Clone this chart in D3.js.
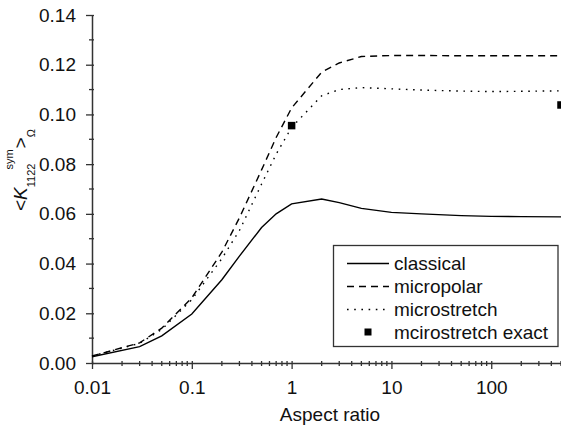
<!DOCTYPE html>
<html>
<head>
<meta charset="utf-8">
<script src="https://cdn.jsdelivr.net/npm/d3@7/dist/d3.min.js"></script>
<style>
  html, body { margin: 0; padding: 0; background: #fff; }
  svg text { font-family: "Liberation Sans", Arial, Helvetica, sans-serif; fill: #111; }
</style>
</head>
<body>
<svg id="chart" width="561" height="430"></svg>
<script>
// Aspect ratios at which the averaged stiffness component was evaluated
const aspect = [0.01, 0.03, 0.05, 0.1, 0.2, 0.3, 0.5, 0.7, 1, 2, 3, 5, 10, 20, 50, 100, 200, 500];
const classical    = [0.0025, 0.0066, 0.0109, 0.0197, 0.0335, 0.0430, 0.0545, 0.0600, 0.0640, 0.0660, 0.0645, 0.0622, 0.0606, 0.0600, 0.0593, 0.0590, 0.0589, 0.0588];
const micropolar   = [0.0028, 0.0081, 0.0140, 0.0262, 0.0446, 0.0584, 0.0777, 0.0907, 0.1026, 0.1170, 0.1207, 0.1233, 0.1237, 0.1237, 0.1236, 0.1236, 0.1236, 0.1236];
const microstretch = [0.0028, 0.0079, 0.0135, 0.0255, 0.0420, 0.0533, 0.0720, 0.0840, 0.0948, 0.1075, 0.1100, 0.1108, 0.1103, 0.1098, 0.1094, 0.1092, 0.1093, 0.1095];
// Exact microstretch solutions
const exactAspect = [1, 500];
const exactValue  = [0.0955, 0.1038];

const yTicks = [0.00, 0.02, 0.04, 0.06, 0.08, 0.10, 0.12, 0.14];
const yMinor = [0.01, 0.03, 0.05, 0.07, 0.09, 0.11, 0.13];
const xTicks = [0.01, 0.1, 1, 10, 100];
const xTickLabels = ["0.01", "0.1", "1", "10", "100"];

const svg = d3.select("#chart");
const x = d3.scaleLog().domain([0.01, 500]).range([92, 561]);
const y = d3.scaleLinear().domain([0, 0.14]).range([363, 15]);
const axisColor = "#333";
const fontSize = 19;

// minor log ticks along the x axis
const xMinor = [];
for (let e = -2; e <= 2; e++) {
  for (let m = 2; m <= 9; m++) {
    const v = m * Math.pow(10, e);
    if (v <= 500) xMinor.push(v);
  }
}

// --- bottom axis ---
const gx = svg.append("g").attr("transform", "translate(0,363)");
gx.call(d3.axisBottom(x).tickValues(xTicks).tickFormat((d, i) => xTickLabels[i]).tickSizeOuter(0).tickSizeInner(6).tickPadding(12));
gx.select(".domain").attr("stroke", axisColor).attr("stroke-width", 1.5);
gx.selectAll(".tick line").attr("y1", -2).attr("stroke", axisColor).attr("stroke-width", 1.3);
gx.selectAll(".tick text").attr("font-size", fontSize).style("font-family", "'Liberation Sans', Arial, sans-serif").attr("fill", "#111");
gx.selectAll(".minor").data(xMinor).enter().append("line")
  .attr("x1", d => x(d)).attr("x2", d => x(d)).attr("y1", -2).attr("y2", 3)
  .attr("stroke", axisColor).attr("stroke-width", 1.3);

// --- left axis ---
const gy = svg.append("g").attr("transform", "translate(92,0)");
gy.call(d3.axisLeft(y).tickValues(yTicks).tickFormat(d3.format(".2f")).tickSizeOuter(0).tickSizeInner(6).tickPadding(10));
gy.select(".domain").attr("stroke", axisColor).attr("stroke-width", 1.5);
gy.selectAll(".tick line").attr("x1", 2).attr("stroke", axisColor).attr("stroke-width", 1.3);
gy.selectAll(".tick text").attr("font-size", fontSize).style("font-family", "'Liberation Sans', Arial, sans-serif").attr("fill", "#111");
gy.selectAll(".minor").data(yMinor).enter().append("line")
  .attr("x1", -3).attr("x2", 2).attr("y1", d => y(d)).attr("y2", d => y(d))
  .attr("stroke", axisColor).attr("stroke-width", 1.3);

// --- axis titles ---
svg.append("text").attr("x", 330).attr("y", 421).attr("text-anchor", "middle")
  .attr("font-size", fontSize).text("Aspect ratio");

const yt = svg.append("text").attr("transform", "translate(27,211) rotate(-90)")
  .attr("font-size", 19);
yt.append("tspan").text("<");
yt.append("tspan").attr("font-style", "italic").text("K");
yt.append("tspan").attr("font-size", 11).attr("dy", 8).text("1122");
yt.append("tspan").attr("font-size", 11).attr("dx", -6).attr("dy", -22).text("sym");
yt.append("tspan").attr("dx", 1).attr("dy", 14).text(">");
yt.append("tspan").attr("font-size", 11).attr("dy", 8).text("Ω");

// --- curves ---
const series = [
  { name: "classical",    values: classical,    dash: null },
  { name: "micropolar",   values: micropolar,   dash: "7,5" },
  { name: "microstretch", values: microstretch, dash: "1.6,5.6" }
];
const line = d3.line().x(d => x(d[0])).y(d => y(d[1]));
series.forEach(s => {
  svg.append("path")
    .datum(aspect.map((a, i) => [a, s.values[i]]))
    .attr("d", line)
    .attr("fill", "none")
    .attr("stroke", "#000")
    .attr("stroke-width", 1.4)
    .attr("stroke-dasharray", s.dash);
});

// exact solutions as filled squares
const sq = 7.5;
svg.selectAll(".exact").data(exactAspect).enter().append("rect")
  .attr("x", d => x(d) - sq / 2)
  .attr("y", (d, i) => y(exactValue[i]) - sq / 2)
  .attr("width", sq).attr("height", sq).attr("fill", "#000");

// --- legend ---
const lg = svg.append("g");
lg.append("rect").attr("x", 333.5).attr("y", 245.5).attr("width", 224.5).attr("height", 101)
  .attr("fill", "#fff").attr("stroke", axisColor).attr("stroke-width", 1.3);
const rows = [263.5, 286.5, 309.5, 332];
series.forEach((s, i) => {
  lg.append("line").attr("x1", 347).attr("x2", 389).attr("y1", rows[i]).attr("y2", rows[i])
    .attr("stroke", "#000").attr("stroke-width", 1.3).attr("stroke-dasharray", s.dash);
  lg.append("text").attr("x", 394).attr("y", rows[i] + 6.5).attr("font-size", fontSize).text(s.name);
});
lg.append("rect").attr("x", 368 - 3.5).attr("y", rows[3] - 3.5).attr("width", 7).attr("height", 7).attr("fill", "#000");
lg.append("text").attr("x", 394).attr("y", rows[3] + 6.5).attr("font-size", fontSize).text("mcirostretch exact");
</script>
</body>
</html>
